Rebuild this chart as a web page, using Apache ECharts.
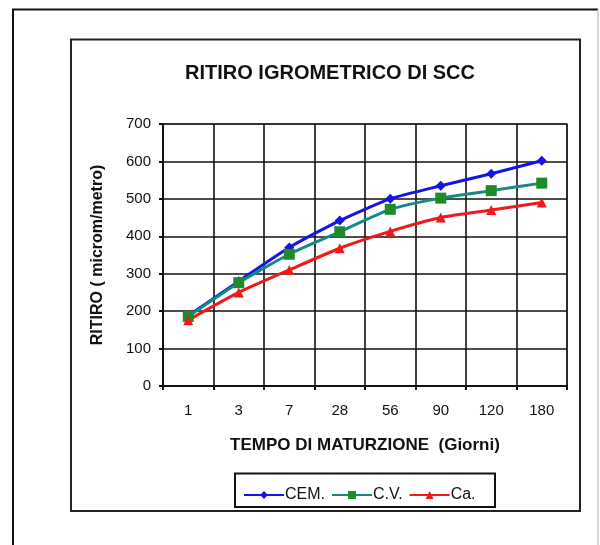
<!DOCTYPE html>
<html>
<head>
<meta charset="utf-8">
<script src="https://cdn.jsdelivr.net/npm/echarts@6/dist/echarts.min.js"></script>
<style>
html,body{margin:0;padding:0;background:#fff;}
#chart{width:600px;height:545px;}
</style>
</head>
<body>
<div id="chart"></div>
<script>
var categories = ['1', '3', '7', '28', '56', '90', '120', '180'];
var cem = [188, 280, 370, 442, 500, 535, 567, 602];
var cv = [186, 276, 352, 412, 472, 502, 522, 542];
var ca = [176, 250, 310, 368, 413, 450, 470, 490];
var seriesNames = ['CEM.', 'C.V.', 'Ca.'];
var yTicks = [0, 700, 100];

var chart = echarts.init(document.getElementById('chart'), null, {renderer: 'canvas'});
var font = 'Liberation Sans, Arial, sans-serif';

var option = {
  backgroundColor: '#fff',
  animation: false,
  title: {
    text: 'RITIRO IGROMETRICO DI SCC',
    left: 325, top: 58, textAlign: 'center',
    textStyle: {fontFamily: font, fontWeight: 'bold', fontSize: 20, color: '#111'}
  },
  grid: {
    left: 163, right: 33, top: 124, bottom: 159,
    show: true, borderColor: '#9a9a9a', borderWidth: 2, backgroundColor: 'transparent'
  },
  legend: {
    left: 238, top: 482,
    itemWidth: 40, itemHeight: 10, itemGap: 6,
    textStyle: {fontFamily: font, fontSize: 16, color: '#111', padding: [0, 0, 0, -4]},
    data: seriesNames
  },
  xAxis: {
    type: 'category', data: categories, boundaryGap: true,
    name: 'TEMPO DI MATURZIONE  (Giorni)', nameLocation: 'middle', nameGap: 51,
    nameTextStyle: {fontFamily: font, fontWeight: 'bold', fontSize: 17, color: '#111'},
    axisLine: {lineStyle: {color: '#111', width: 2}},
    axisTick: {show: true, length: 4, inside: false, lineStyle: {color: '#111', width: 2}},
    axisLabel: {fontFamily: font, fontSize: 15, color: '#111', margin: 17, interval: 0},
    splitLine: {show: true, interval: 0, lineStyle: {color: '#111', width: 1.6}}
  },
  yAxis: {
    type: 'value', min: yTicks[0], max: yTicks[1], interval: yTicks[2],
    name: 'RITIRO ( microm/metro)', nameLocation: 'middle', nameGap: 57, nameRotate: 90,
    nameTextStyle: {fontFamily: font, fontWeight: 'bold', fontSize: 16, color: '#111'},
    axisLine: {show: true, lineStyle: {color: '#111', width: 2}},
    axisTick: {show: true, length: 4, lineStyle: {color: '#111', width: 2}},
    axisLabel: {fontFamily: font, fontSize: 15, color: '#111', margin: 12},
    splitLine: {show: true, lineStyle: {color: '#111', width: 1.6}}
  },
  series: [
    {
      name: seriesNames[0], type: 'line', data: cem, smooth: 0.2,
      symbol: 'diamond', symbolSize: 10,
      lineStyle: {color: '#1414e6', width: 3},
      itemStyle: {color: '#1414e6'}
    },
    {
      name: seriesNames[1], type: 'line', data: cv, smooth: 0.2,
      symbol: 'rect', symbolSize: 11,
      lineStyle: {color: '#138a84', width: 3},
      itemStyle: {color: '#1f8a2a'}
    },
    {
      name: seriesNames[2], type: 'line', data: ca, smooth: 0.2,
      symbol: 'triangle', symbolSize: 10,
      lineStyle: {color: '#f01818', width: 3},
      itemStyle: {color: '#f01818'}
    }
  ],
  graphic: [
    {type: 'polyline', shape: {points: [[13, 560], [13, 9.5], [598, 9.5]]},
     style: {stroke: '#111', lineWidth: 2, fill: null}, silent: true},
    {type: 'line', shape: {x1: 598, y1: 9.5, x2: 598, y2: 560},
     style: {stroke: '#c8c8c8', lineWidth: 1.5}, silent: true},
    {type: 'rect', shape: {x: 71, y: 39.5, width: 509, height: 471.5},
     style: {stroke: '#222', lineWidth: 2, fill: null}, silent: true, z: -1},
    {type: 'rect', shape: {x: 235, y: 473.5, width: 260, height: 33.5},
     style: {stroke: '#111', lineWidth: 2, fill: null}, silent: true}
  ]
};
chart.setOption(option);
</script>
</body>
</html>
